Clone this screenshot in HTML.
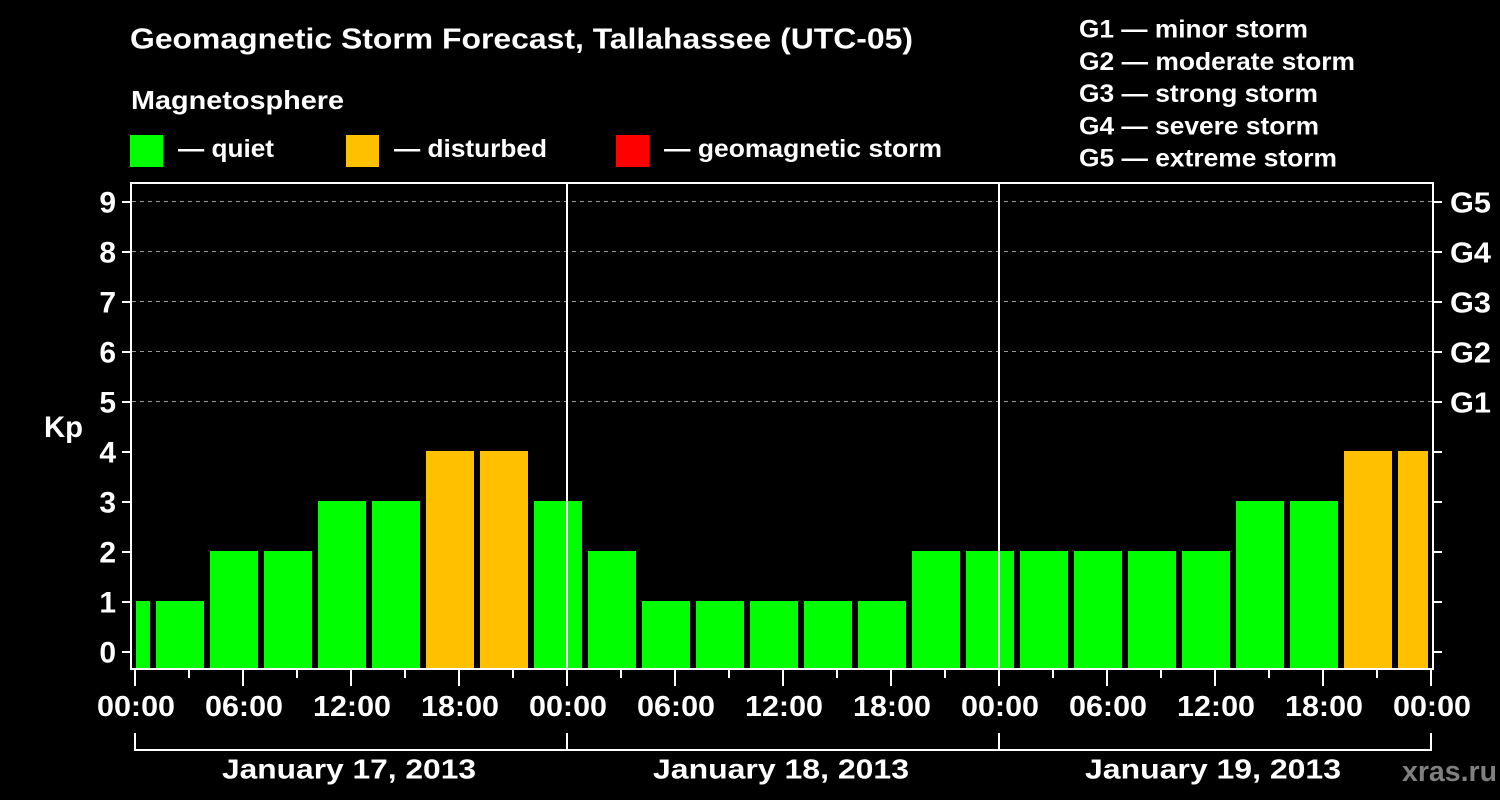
<!DOCTYPE html>
<html>
<head>
<meta charset="utf-8">
<style>
html,body{margin:0;padding:0;background:#000;}
svg{display:block;}
text{font-family:"Liberation Sans",Arial,sans-serif;font-weight:bold;fill:#fff;}
</style>
</head>
<body>
<svg width="1500" height="800" viewBox="0 0 1500 800" xmlns="http://www.w3.org/2000/svg">
<rect x="0" y="0" width="1500" height="800" fill="#000"/>

<!-- Title & legend -->
<text x="130" y="48.5" font-size="29" textLength="783" lengthAdjust="spacingAndGlyphs">Geomagnetic Storm Forecast, Tallahassee (UTC-05)</text>
<text x="131" y="109" font-size="26" textLength="213" lengthAdjust="spacingAndGlyphs">Magnetosphere</text>

<rect x="130" y="135" width="33" height="32" fill="#00ff00"/>
<text x="178" y="157" font-size="25" textLength="96" lengthAdjust="spacingAndGlyphs">— quiet</text>
<rect x="346" y="135" width="33" height="32" fill="#ffc000"/>
<text x="394" y="157" font-size="25" textLength="153" lengthAdjust="spacingAndGlyphs">— disturbed</text>
<rect x="616" y="135" width="33" height="32" fill="#ff0000"/>
<text x="664" y="157" font-size="25" textLength="278" lengthAdjust="spacingAndGlyphs">— geomagnetic storm</text>

<text x="1079" y="37.5" font-size="25" textLength="229" lengthAdjust="spacingAndGlyphs">G1 — minor storm</text>
<text x="1079" y="69.8" font-size="25" textLength="276" lengthAdjust="spacingAndGlyphs">G2 — moderate storm</text>
<text x="1079" y="102" font-size="25" textLength="239" lengthAdjust="spacingAndGlyphs">G3 — strong storm</text>
<text x="1079" y="134.4" font-size="25" textLength="240" lengthAdjust="spacingAndGlyphs">G4 — severe storm</text>
<text x="1079" y="166.7" font-size="25" textLength="258" lengthAdjust="spacingAndGlyphs">G5 — extreme storm</text>

<!-- Bars -->
<g shape-rendering="crispEdges">
<rect x="136" y="601" width="14" height="67" fill="#00ff00"/>
<rect x="156" y="601" width="48" height="67" fill="#00ff00"/>
<rect x="210" y="551" width="48" height="117" fill="#00ff00"/>
<rect x="264" y="551" width="48" height="117" fill="#00ff00"/>
<rect x="318" y="501" width="48" height="167" fill="#00ff00"/>
<rect x="372" y="501" width="48" height="167" fill="#00ff00"/>
<rect x="426" y="451" width="48" height="217" fill="#ffc000"/>
<rect x="480" y="451" width="48" height="217" fill="#ffc000"/>
<rect x="534" y="501" width="48" height="167" fill="#00ff00"/>
<rect x="588" y="551" width="48" height="117" fill="#00ff00"/>
<rect x="642" y="601" width="48" height="67" fill="#00ff00"/>
<rect x="696" y="601" width="48" height="67" fill="#00ff00"/>
<rect x="750" y="601" width="48" height="67" fill="#00ff00"/>
<rect x="804" y="601" width="48" height="67" fill="#00ff00"/>
<rect x="858" y="601" width="48" height="67" fill="#00ff00"/>
<rect x="912" y="551" width="48" height="117" fill="#00ff00"/>
<rect x="966" y="551" width="48" height="117" fill="#00ff00"/>
<rect x="1020" y="551" width="48" height="117" fill="#00ff00"/>
<rect x="1074" y="551" width="48" height="117" fill="#00ff00"/>
<rect x="1128" y="551" width="48" height="117" fill="#00ff00"/>
<rect x="1182" y="551" width="48" height="117" fill="#00ff00"/>
<rect x="1236" y="501" width="48" height="167" fill="#00ff00"/>
<rect x="1290" y="501" width="48" height="167" fill="#00ff00"/>
<rect x="1344" y="451" width="48" height="217" fill="#ffc000"/>
<rect x="1398" y="451" width="30" height="217" fill="#ffc000"/>
</g>

<!-- Gridlines -->
<g stroke="#9a9a9a" stroke-width="1" stroke-dasharray="4 4" shape-rendering="crispEdges">
<line x1="132" y1="201.5" x2="1432" y2="201.5"/>
<line x1="132" y1="251.5" x2="1432" y2="251.5"/>
<line x1="132" y1="301.5" x2="1432" y2="301.5"/>
<line x1="132" y1="351.5" x2="1432" y2="351.5"/>
<line x1="132" y1="401.5" x2="1432" y2="401.5"/>
</g>

<!-- Day separators -->
<g stroke="#fff" stroke-width="2" shape-rendering="crispEdges">
<line x1="567" y1="182" x2="567" y2="668"/>
<line x1="999" y1="182" x2="999" y2="668"/>
</g>

<!-- Frame -->
<rect x="131" y="183" width="1302" height="486" fill="none" stroke="#fff" stroke-width="2" shape-rendering="crispEdges"/>

<!-- Y ticks -->
<g stroke="#fff" stroke-width="2" shape-rendering="crispEdges">
<line x1="122" y1="202" x2="130" y2="202"/><line x1="1434" y1="202" x2="1442" y2="202"/>
<line x1="122" y1="252" x2="130" y2="252"/><line x1="1434" y1="252" x2="1442" y2="252"/>
<line x1="122" y1="302" x2="130" y2="302"/><line x1="1434" y1="302" x2="1442" y2="302"/>
<line x1="122" y1="352" x2="130" y2="352"/><line x1="1434" y1="352" x2="1442" y2="352"/>
<line x1="122" y1="402" x2="130" y2="402"/><line x1="1434" y1="402" x2="1442" y2="402"/>
<line x1="122" y1="452" x2="130" y2="452"/><line x1="1434" y1="452" x2="1442" y2="452"/>
<line x1="122" y1="502" x2="130" y2="502"/><line x1="1434" y1="502" x2="1442" y2="502"/>
<line x1="122" y1="552" x2="130" y2="552"/><line x1="1434" y1="552" x2="1442" y2="552"/>
<line x1="122" y1="602" x2="130" y2="602"/><line x1="1434" y1="602" x2="1442" y2="602"/>
<line x1="122" y1="652" x2="130" y2="652"/><line x1="1434" y1="652" x2="1442" y2="652"/>
</g>

<!-- Y labels -->
<g font-size="30" text-anchor="end">
<text x="116" y="212.5">9</text>
<text x="116" y="262.5">8</text>
<text x="116" y="312.5">7</text>
<text x="116" y="362.5">6</text>
<text x="116" y="412.5">5</text>
<text x="116" y="462.5">4</text>
<text x="116" y="512.5">3</text>
<text x="116" y="562.5">2</text>
<text x="116" y="612.5">1</text>
<text x="116" y="662.5">0</text>
</g>
<g font-size="29">
<text x="1450" y="212.5" textLength="41" lengthAdjust="spacingAndGlyphs">G5</text>
<text x="1450" y="262.5" textLength="41" lengthAdjust="spacingAndGlyphs">G4</text>
<text x="1450" y="312.5" textLength="41" lengthAdjust="spacingAndGlyphs">G3</text>
<text x="1450" y="362.5" textLength="41" lengthAdjust="spacingAndGlyphs">G2</text>
<text x="1450" y="412.5" textLength="41" lengthAdjust="spacingAndGlyphs">G1</text>
</g>
<text x="44" y="437" font-size="30" textLength="39" lengthAdjust="spacingAndGlyphs">Kp</text>

<!-- X ticks -->
<g stroke="#fff" stroke-width="2" shape-rendering="crispEdges">
<line x1="135" y1="670" x2="135" y2="686"/>
<line x1="243" y1="670" x2="243" y2="686"/>
<line x1="351" y1="670" x2="351" y2="686"/>
<line x1="459" y1="670" x2="459" y2="686"/>
<line x1="567" y1="670" x2="567" y2="686"/>
<line x1="675" y1="670" x2="675" y2="686"/>
<line x1="783" y1="670" x2="783" y2="686"/>
<line x1="891" y1="670" x2="891" y2="686"/>
<line x1="999" y1="670" x2="999" y2="686"/>
<line x1="1107" y1="670" x2="1107" y2="686"/>
<line x1="1215" y1="670" x2="1215" y2="686"/>
<line x1="1323" y1="670" x2="1323" y2="686"/>
<line x1="1431" y1="670" x2="1431" y2="686"/>
<line x1="189" y1="670" x2="189" y2="678"/>
<line x1="297" y1="670" x2="297" y2="678"/>
<line x1="405" y1="670" x2="405" y2="678"/>
<line x1="513" y1="670" x2="513" y2="678"/>
<line x1="621" y1="670" x2="621" y2="678"/>
<line x1="729" y1="670" x2="729" y2="678"/>
<line x1="837" y1="670" x2="837" y2="678"/>
<line x1="945" y1="670" x2="945" y2="678"/>
<line x1="1053" y1="670" x2="1053" y2="678"/>
<line x1="1161" y1="670" x2="1161" y2="678"/>
<line x1="1269" y1="670" x2="1269" y2="678"/>
<line x1="1377" y1="670" x2="1377" y2="678"/>
</g>

<!-- X labels -->
<g font-size="29" text-anchor="middle">
<text x="136" y="716" textLength="78" lengthAdjust="spacingAndGlyphs">00:00</text>
<text x="244" y="716" textLength="78" lengthAdjust="spacingAndGlyphs">06:00</text>
<text x="352" y="716" textLength="78" lengthAdjust="spacingAndGlyphs">12:00</text>
<text x="460" y="716" textLength="78" lengthAdjust="spacingAndGlyphs">18:00</text>
<text x="568" y="716" textLength="78" lengthAdjust="spacingAndGlyphs">00:00</text>
<text x="676" y="716" textLength="78" lengthAdjust="spacingAndGlyphs">06:00</text>
<text x="784" y="716" textLength="78" lengthAdjust="spacingAndGlyphs">12:00</text>
<text x="892" y="716" textLength="78" lengthAdjust="spacingAndGlyphs">18:00</text>
<text x="1000" y="716" textLength="78" lengthAdjust="spacingAndGlyphs">00:00</text>
<text x="1108" y="716" textLength="78" lengthAdjust="spacingAndGlyphs">06:00</text>
<text x="1216" y="716" textLength="78" lengthAdjust="spacingAndGlyphs">12:00</text>
<text x="1324" y="716" textLength="78" lengthAdjust="spacingAndGlyphs">18:00</text>
<text x="1432" y="716" textLength="78" lengthAdjust="spacingAndGlyphs">00:00</text>
</g>

<!-- Day brackets -->
<g stroke="#fff" stroke-width="2" shape-rendering="crispEdges" fill="none">
<line x1="134" y1="750" x2="1432" y2="750"/>
<line x1="135" y1="733" x2="135" y2="750"/>
<line x1="567" y1="733" x2="567" y2="750"/>
<line x1="999" y1="733" x2="999" y2="750"/>
<line x1="1431" y1="733" x2="1431" y2="750"/>
</g>
<g font-size="28" text-anchor="middle">
<text x="349" y="778.5" textLength="254" lengthAdjust="spacingAndGlyphs">January 17, 2013</text>
<text x="781" y="778.5" textLength="256" lengthAdjust="spacingAndGlyphs">January 18, 2013</text>
<text x="1213" y="778.5" textLength="256" lengthAdjust="spacingAndGlyphs">January 19, 2013</text>
</g>
<text x="1402" y="781" font-size="29" style="fill:#808080" textLength="95" lengthAdjust="spacingAndGlyphs">xras.ru</text>
</svg>
</body>
</html>
